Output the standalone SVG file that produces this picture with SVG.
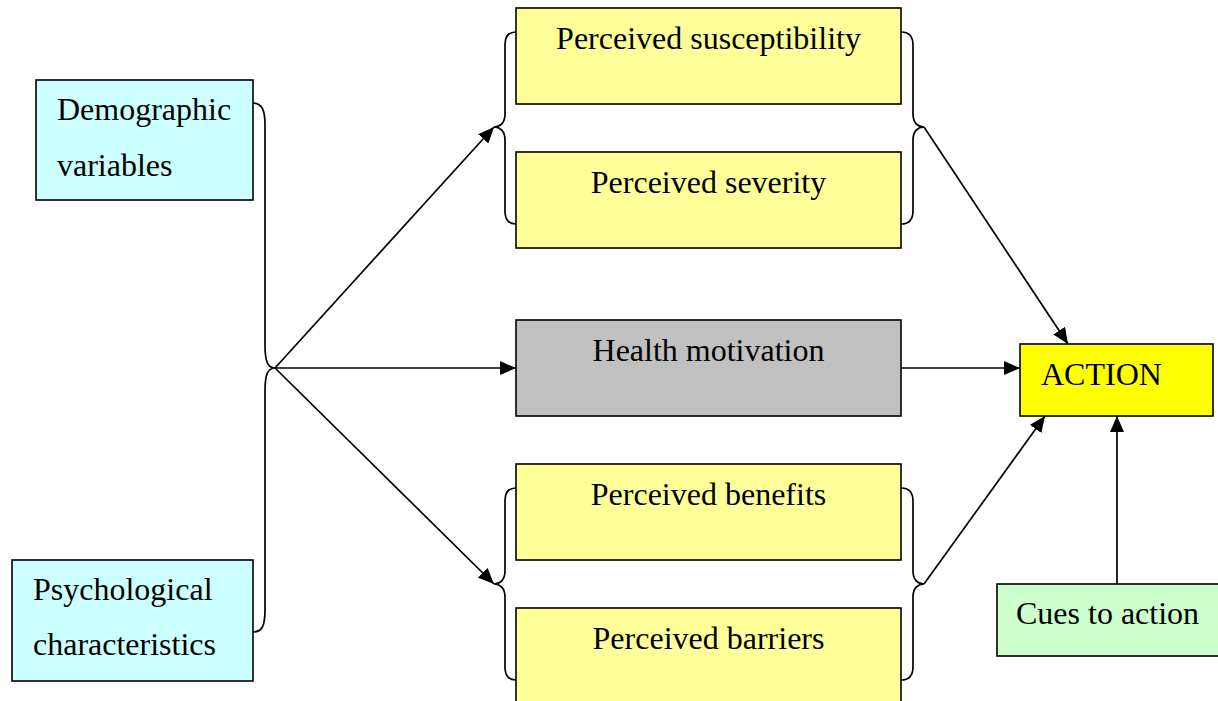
<svg xmlns="http://www.w3.org/2000/svg" width="1218" height="701" viewBox="0 0 1218 701">
<style>
.box{stroke:#000;stroke-width:1.6}
.cyan{fill:#CCFFFF}
.ly{fill:#FFFF99}
.gray{fill:#C0C0C0}
.yel{fill:#FFFF00}
.grn{fill:#CCFFCC}
text{font-family:"Liberation Serif","Times New Roman",serif;font-size:32px;fill:#000}
.c{text-anchor:middle}
.line{fill:none;stroke:#000;stroke-width:1.7}
.arr{marker-end:url(#ah)}
</style>
<defs>
<marker id="ah" viewBox="0 0 16 14" refX="16" refY="7" markerWidth="16" markerHeight="14" markerUnits="userSpaceOnUse" orient="auto">
<path d="M0,0 L16,7 L0,14 Z" fill="#000"/>
</marker>
</defs>
<rect width="1218" height="701" fill="#fff"/>
<g id="demographic">
<rect class="box cyan" x="36" y="80" width="217" height="120"/>
<text x="57" y="120">Demographic</text>
<text x="57" y="176">variables</text>
</g>
<g id="psychological">
<rect class="box cyan" x="12" y="560" width="241" height="121"/>
<text x="33" y="600">Psychological</text>
<text x="33" y="655">characteristics</text>
</g>
<g id="susceptibility">
<rect class="box ly" x="516" y="8" width="385" height="96"/>
<text class="c" x="708.5" y="49">Perceived susceptibility</text>
</g>
<g id="severity">
<rect class="box ly" x="516" y="152" width="385" height="96"/>
<text class="c" x="708.5" y="193">Perceived severity</text>
</g>
<g id="motivation">
<rect class="box gray" x="516" y="320" width="385" height="96"/>
<text class="c" x="708.5" y="361">Health motivation</text>
</g>
<g id="benefits">
<rect class="box ly" x="516" y="464" width="385" height="96"/>
<text class="c" x="708.5" y="505">Perceived benefits</text>
</g>
<g id="barriers">
<rect class="box ly" x="516" y="608" width="385" height="100"/>
<text class="c" x="708.5" y="649">Perceived barriers</text>
</g>
<g id="action">
<rect class="box yel" x="1020" y="344" width="193" height="72"/>
<text x="1041" y="385">ACTION</text>
</g>
<g id="cues">
<rect class="box grn" x="997" y="584" width="230" height="72"/>
<text x="1016" y="624">Cues to action</text>
</g>
<g id="connectors">
<path class="line" d="M253,103 C262,103 265,110 265,125 L265,345 C265,362 268,368 275,368 C268,368 265,374 265,391 L265,610 C265,626 262,632 253,632"/>
<path class="line" d="M516,32 C508,32 505,37 505,45 L505,114 C505,123 500,127 494,127 C500,127 505,131 505,140 L505,211 C505,219 508,224 516,224"/>
<path class="line" d="M901,32 C909,32 913,37 913,45 L913,114 C913,123 918,127 924,127 C918,127 913,131 913,140 L913,211 C913,219 909,224 901,224"/>
<path class="line" d="M516,488 C508,488 505,493 505,501 L505,571 C505,580 500,584 494,584 C500,584 505,588 505,597 L505,667 C505,675 508,680 516,680"/>
<path class="line" d="M901,488 C909,488 913,493 913,501 L913,571 C913,580 918,584 924,584 C918,584 913,588 913,597 L913,667 C913,675 909,680 901,680"/>
<line class="line arr" x1="275" y1="368" x2="494" y2="127"/>
<line class="line arr" x1="275" y1="368" x2="516" y2="368"/>
<line class="line arr" x1="275" y1="368" x2="494" y2="584"/>
<line class="line arr" x1="901" y1="368" x2="1020" y2="368"/>
<line class="line arr" x1="924" y1="127" x2="1068" y2="344"/>
<line class="line arr" x1="924" y1="584" x2="1045" y2="416"/>
<line class="line arr" x1="1117" y1="584" x2="1117" y2="416"/>
</g>
</svg>
